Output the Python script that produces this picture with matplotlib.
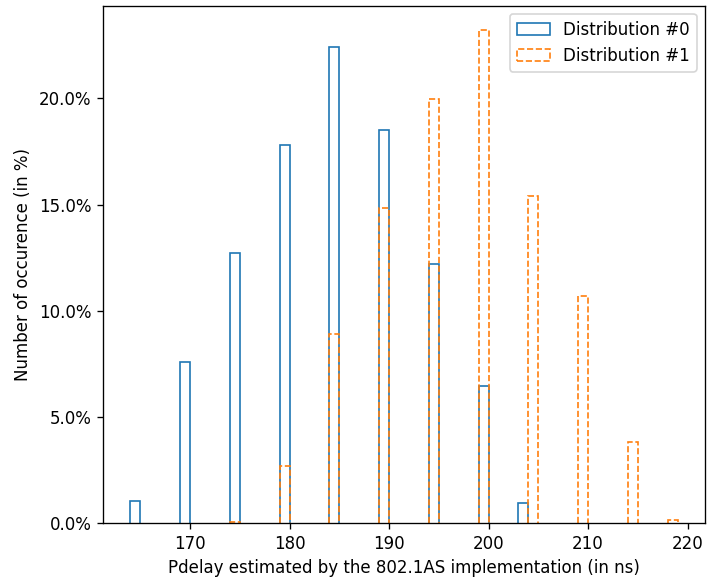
import numpy as np
import matplotlib
matplotlib.use("Agg")
import matplotlib.pyplot as plt
from matplotlib.ticker import PercentFormatter
from matplotlib.patches import Rectangle

# Pdelay values (ns, left edge of 1-ns bin) and share of occurrences (%)
d0_pdelay = [164, 169, 174, 179, 184, 189, 194, 199, 203]
d0_pct = [1.05, 7.6, 12.7, 17.8, 22.4, 18.5, 12.2, 6.45, 0.93]

d1_pdelay = [174, 179, 184, 189, 194, 199, 204, 209, 214, 218]
d1_pct = [0.05, 2.7, 8.9, 14.85, 19.95, 23.2, 15.4, 10.7, 3.83, 0.13]

labels = ["Distribution #0", "Distribution #1"]
colors = ["#1f77b4", "#ff7f0e"]
styles = ["-", "--"]

DPI = 120
fig = plt.figure(figsize=(715 / DPI, 578 / DPI), dpi=DPI)
ax = fig.add_axes([0.144, 0.095, 0.842, 0.895])

handles = []
for xs, ps, c, ls, lab in zip([d0_pdelay, d1_pdelay], [d0_pct, d1_pct],
                              colors, styles, labels):
    for x, p in zip(xs, ps):
        ax.stairs([p], [x, x + 1], baseline=0, fill=False, color=c,
                  linestyle=ls, linewidth=1.0)
    handles.append(Rectangle((0, 0), 1, 1, fill=False, edgecolor=c,
                             linestyle=ls, linewidth=1.0, label=lab))

ax.margins(x=0.05, y=0.05)
ax.set_ylim(bottom=0)
ax.yaxis.set_major_formatter(PercentFormatter(decimals=1))
ax.set_xlabel("Pdelay estimated by the 802.1AS implementation (in ns)")
ax.set_ylabel("Number of occurence (in %)")
ax.legend(handles=handles, loc="upper right")

fig.savefig("out.png", dpi=DPI)
